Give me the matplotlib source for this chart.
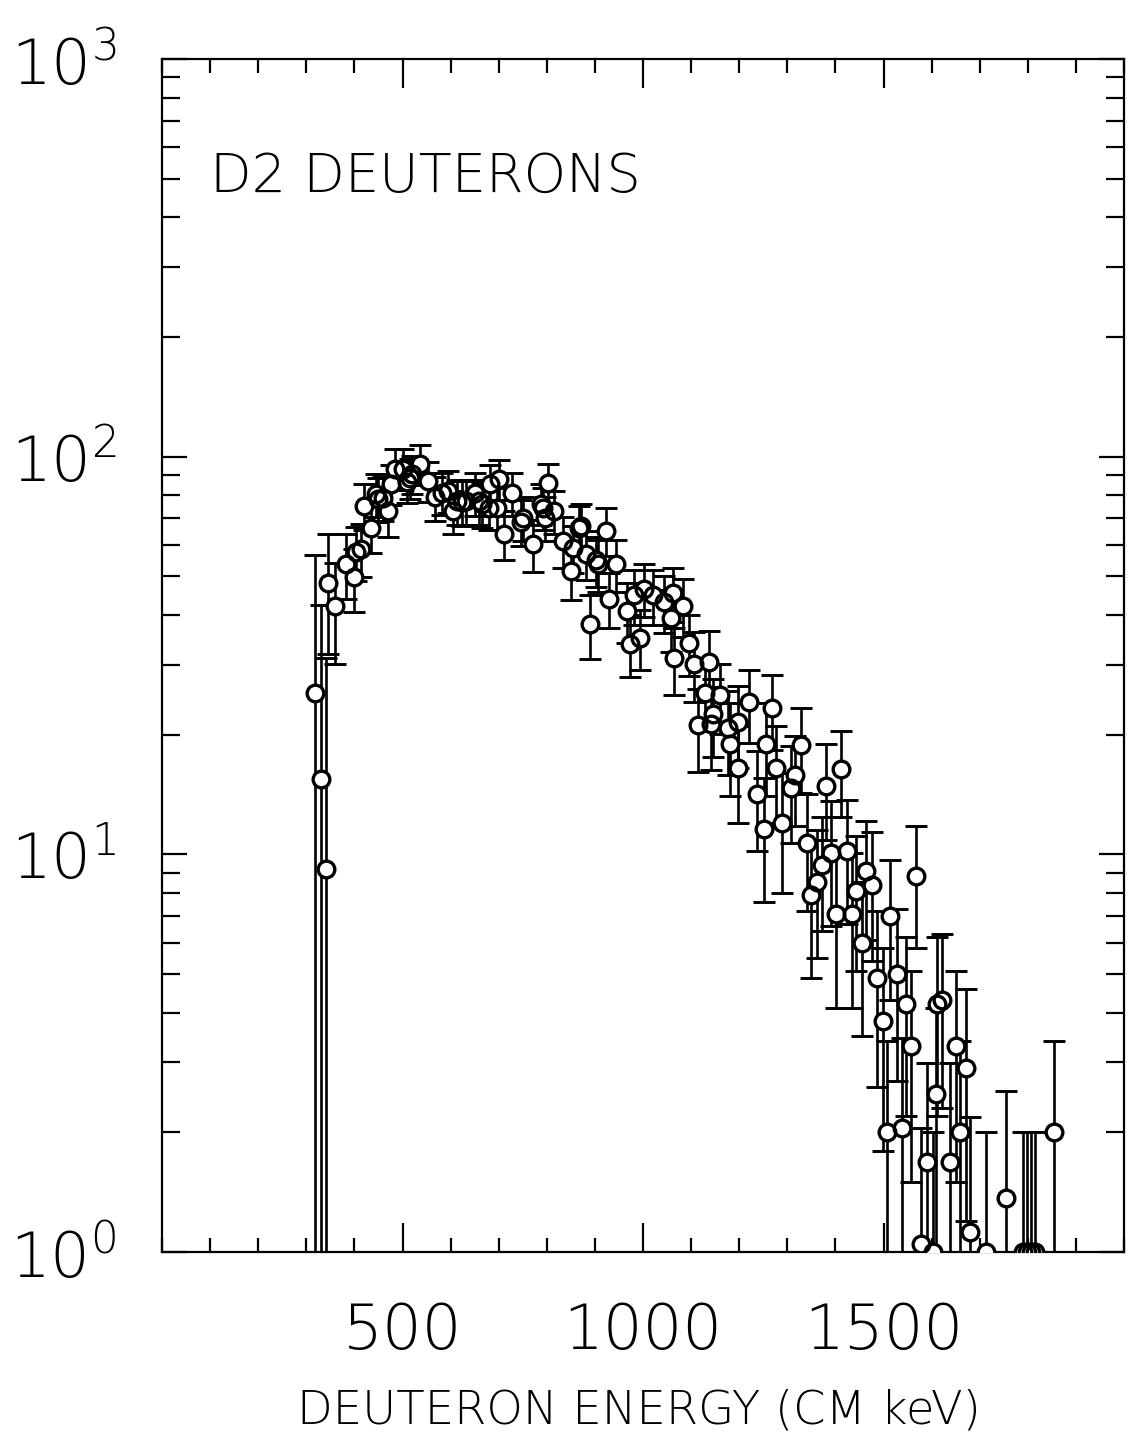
import numpy as np
import matplotlib.pyplot as plt
from matplotlib.ticker import FixedLocator, MultipleLocator, LogLocator, NullFormatter

# deuteron energy (CM keV), counts, and error bars
energy = [317, 330, 340, 346, 359, 383, 400, 404, 414, 419,
          434, 444, 450, 460, 469, 475, 485, 501, 510, 516,
          520, 536, 553, 568, 583, 595, 604, 614, 624, 631,
          651, 658, 666, 679, 682, 697, 700, 710, 728, 746,
          750, 771, 787, 791, 797, 803, 814, 833, 850, 854,
          866, 870, 881, 889, 902, 906, 922, 930, 944, 966,
          973, 982, 993, 1002, 1021, 1044, 1059, 1063, 1064, 1084,
          1095, 1106, 1114, 1128, 1137, 1141, 1145, 1159, 1176, 1180,
          1197, 1198, 1221, 1236, 1251, 1255, 1269, 1277, 1288, 1308,
          1316, 1328, 1341, 1350, 1362, 1372, 1381, 1391, 1402, 1412,
          1424, 1434, 1443, 1455, 1464, 1477, 1487, 1498, 1507, 1513,
          1528, 1538, 1546, 1557, 1568, 1578, 1591, 1603, 1610, 1612,
          1622, 1639, 1650, 1659, 1672, 1680, 1713, 1754, 1790, 1799,
          1807, 1815, 1854]
counts = [25.5, 15.5, 9.2, 48.0, 42.2, 53.8, 49.7, 57.6, 58.7, 75.3,
          66.3, 80.5, 78.5, 78.9, 73.0, 85.5, 93.3, 93.3, 86.6, 88.5,
          90.4, 96.0, 87.0, 79.0, 81.2, 82.0, 73.0, 77.5, 76.8, 77.5,
          81.0, 77.5, 76.0, 74.4, 85.5, 74.4, 88.0, 64.1, 81.0, 68.7,
          70.3, 60.4, 76.2, 74.4, 70.3, 86.0, 73.0, 61.5, 51.6, 59.0,
          66.3, 67.0, 57.0, 38.0, 55.0, 53.8, 65.2, 44.0, 53.8, 41.0,
          33.9, 44.8, 35.1, 46.6, 44.8, 43.0, 39.2, 45.5, 31.1, 42.2,
          34.1, 30.2, 21.1, 25.4, 30.4, 21.3, 22.6, 25.1, 20.8, 19.0,
          21.5, 16.5, 24.1, 14.2, 11.6, 19.0, 23.3, 16.5, 12.0, 14.7,
          15.8, 18.8, 10.7, 7.9, 8.5, 9.4, 14.9, 10.1, 7.1, 16.4,
          10.2, 7.1, 8.1, 6.0, 9.1, 8.4, 4.9, 3.8, 2.0, 7.0,
          5.0, 2.05, 4.2, 3.3, 8.8, 1.05, 1.68, 1.0, 2.5, 4.2,
          4.3, 1.68, 3.3, 2.0, 2.9, 1.12, 1.0, 1.37, 1.0, 1.0,
          1.0, 1.0, 2.0]
errors = [31, 27, 22, 16, 12, 10, 9, 9, 9, 10,
          9, 10, 10, 10, 10, 10, 11, 11, 10, 10,
          10, 11, 10, 10, 10, 10, 9, 10, 10, 10,
          10, 10, 10, 9, 10, 9, 10, 9, 10, 9,
          9, 9, 9, 9, 9, 10, 9, 9, 8, 8,
          9, 9, 8, 7, 8, 8, 9, 7, 8, 7,
          6, 7, 6, 7, 7, 7, 7, 7, 6, 7,
          6, 6, 5, 5, 6, 5, 5, 5, 5, 5,
          5, 4.5, 5, 4, 4, 5, 5, 4.5, 4, 4,
          4, 4.5, 3.5, 3, 3, 3, 4, 3.5, 3, 4,
          3.5, 3, 3, 2.5, 3, 3, 2.3, 2, 1.4, 2.7,
          2.3, 1.4, 2, 1.8, 3, 1, 1.3, 1, 1.6, 2,
          2, 1.3, 1.8, 1.4, 1.7, 1.06, 1, 1.17, 1, 1,
          1, 1, 1.4]

x_major = [500, 1000, 1500]

plt.rcParams['font.family'] = ['DejaVu Sans']
plt.rcParams['font.weight'] = 200
plt.rcParams['mathtext.default'] = 'regular'

fig = plt.figure(figsize=(11.38, 14.37), dpi=100)
ax = fig.add_axes([0.1424, 0.1287, 0.8453, 0.8302])

# error bars first, then white disks to hide the bars inside circles, then the rings
ax.errorbar(energy, counts, yerr=errors, fmt='none', ecolor='black',
            elinewidth=1.9, capsize=8, capthick=2.1, zorder=2)
ax.plot(energy, counts, 'o', ms=12, mfc='white', mec='white', mew=0, zorder=3)
ax.plot(energy, counts, 'o', ms=12, mfc='none', mec='black', mew=2.4, zorder=4)

ax.set_yscale('log')
ax.set_xlim(0, 2000)
ax.set_ylim(1, 1000)

ax.xaxis.set_major_locator(FixedLocator(x_major))
ax.xaxis.set_minor_locator(MultipleLocator(100))
ax.yaxis.set_major_locator(LogLocator(base=10))
ax.yaxis.set_minor_locator(LogLocator(base=10, subs=np.arange(2, 10)))
ax.yaxis.set_minor_formatter(NullFormatter())

ax.tick_params(which='both', direction='in', top=True, right=True, width=1.6)
ax.tick_params(axis='x', which='major', length=21, labelsize=45, pad=36)
ax.tick_params(axis='x', which='minor', length=10)
ax.tick_params(axis='y', which='major', length=18, labelsize=45, pad=33)
ax.tick_params(axis='y', which='minor', length=13)
for sp in ax.spines.values():
    sp.set_linewidth(1.6)

ax.text(0.05, 0.8885, 'D2 DEUTERONS', transform=ax.transAxes,
        fontsize=39, va='baseline', ha='left')
fig.text(0.561, 0.0097, 'DEUTERON ENERGY (CM keV)', fontsize=33.5,
         va='baseline', ha='center')

fig.savefig('out.png', dpi=100, facecolor='white')
